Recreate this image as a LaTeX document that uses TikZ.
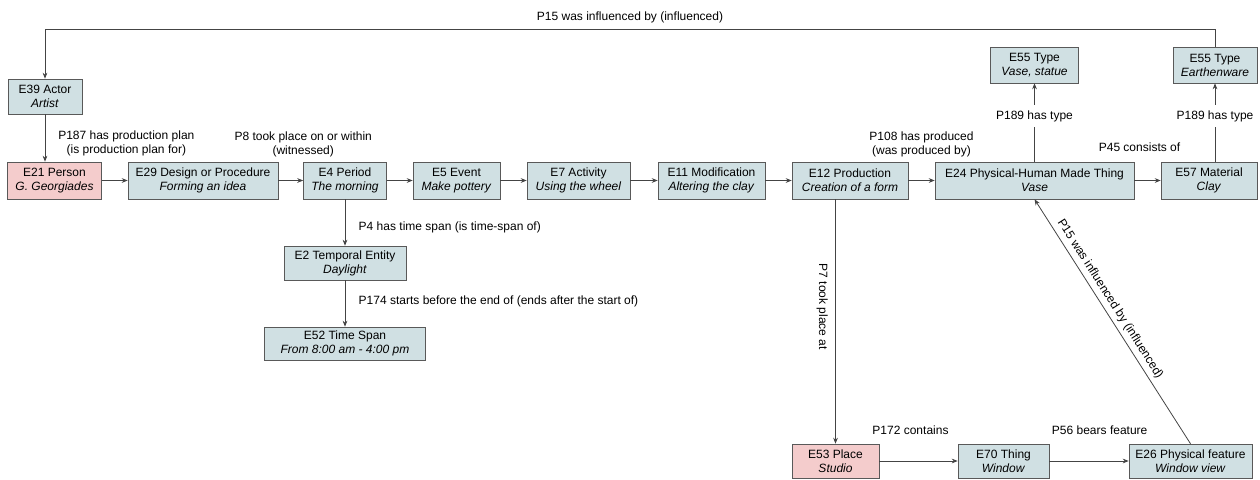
\documentclass[tikz,border=0pt]{standalone}
\usepackage{fontspec}
\setmainfont{Liberation Sans}
\usepackage{xcolor}
\usetikzlibrary{arrows.meta}
\definecolor{entfill}{RGB}{208,224,227}
\definecolor{actfill}{RGB}{244,204,204}
\definecolor{boxline}{RGB}{89,89,89}
\definecolor{linkline}{RGB}{68,68,68}

\begin{document}
\begin{tikzpicture}[
  x=0.75pt, y=-0.75pt,
  ent/.style={draw=boxline, fill=entfill, align=center, inner sep=1pt,
    minimum height=27.75pt, font=\fontsize{9}{10.5}\selectfont},
  agent/.style={ent, fill=actfill},
  w/.style={minimum width=#1*0.75pt},
  h/.style={minimum height=#1*0.75pt},
  lbl/.style={align=center, inner sep=1pt, font=\fontsize{9}{10.5}\selectfont},
  link/.style={draw=linkline, line width=0.6pt},
  ->,>={Stealth[length=4.5pt,width=3.5pt]}
]
\useasboundingbox (0,0) rectangle (1260,479);
\node[ent, w=74, h=35] (actor) at (45,96.5) {E39 Actor\\\textit{Artist}};
\node[agent, w=94] (person) at (54.5,180.5) {E21 Person\\\textit{G. Georgiades}};
\node[ent, w=150] (design) at (203,180.5) {E29 Design or Procedure\\\textit{Forming an idea}};
\node[ent, w=83] (period) at (345,180.5) {E4 Period\\\textit{The morning}};
\node[ent, w=87] (event) at (456.5,180.5) {E5 Event\\\textit{Make pottery}};
\node[ent, w=103] (activity) at (578.5,180.5) {E7 Activity\\\textit{Using the wheel}};
\node[ent, w=107] (modif) at (711.5,180.5) {E11 Modification\\\textit{Altering the clay}};
\node[ent, w=116] (prod) at (850,180.5) {E12 Production\\\textit{Creation of a form}};
\node[ent, w=199] (vase) at (1034.5,180.5) {E24 Physical-Human Made Thing\\\textit{Vase}};
\node[ent, w=96] (clay) at (1209,180.5) {E57 Material\\\textit{Clay}};
\node[ent, w=88, h=36] (vasetype) at (1034.5,65) {E55 Type\\\textit{Vase, statue}};
\node[ent, w=84, h=36] (claytype) at (1215,65) {E55 Type\\\textit{Earthenware}};
\node[ent, w=122, h=34] (daylight) at (345,263) {E2 Temporal Entity\\\textit{Daylight}};
\node[ent, w=161, h=33] (timespan) at (345,343.5) {E52 Time Span\\\textit{From 8:00 am - 4:00 pm}};
\node[agent, w=87, h=34] (studio) at (835.5,461) {E53 Place\\\textit{Studio}};
\node[ent, w=91, h=34] (window) at (1003.5,461) {E70 Thing\\\textit{Window}};
\node[ent, w=123, h=34] (view) at (1190.5,461) {E26 Physical feature\\\textit{Window view}};
\coordinate (top) at (0,29);

\draw[link] (claytype.north) -- (claytype.north |- top)
  -- node[lbl, above=3pt] {P15 was influenced by (influenced)} (actor.north |- top)
  -- (actor.north);
\draw[link] (actor.south) -- node[lbl, pos=0.56, xshift=61pt, yshift=-2pt]
  {P187 has production plan\\(is production plan for)} (actor.south |- person.north);
\draw[link] (person) -- (design);
\draw[link] (design) -- node[lbl, pos=1, yshift=27pt]
  {P8 took place on or within\\(witnessed)} (period);
\draw[link] (period) -- (event);
\draw[link] (event) -- (activity);
\draw[link] (activity) -- (modif);
\draw[link] (modif) -- (prod);
\draw[link] (prod) -- node[lbl, yshift=27pt] {P108 has produced\\(was produced by)} (vase);
\draw[link] (vase) -- node[lbl, xshift=-6pt, yshift=25pt] {P45 consists of} (clay);
\draw[link] (vase) -- node[lbl, fill=white, inner sep=4pt, pos=0.58] {P189 has type} (vasetype);
\draw[link] (clay.north -| claytype) -- node[lbl, fill=white, inner sep=4pt, pos=0.58] {P189 has type} (claytype);
\draw[link] (period) -- node[lbl, anchor=west, pos=0.6, xshift=9pt]
  {P4 has time span (is time-span of)} (daylight);
\draw[link] (daylight) -- node[lbl, anchor=west, pos=0.45, xshift=9pt]
  {P174 starts before the end of (ends after the start of)} (timespan);
\draw[link] (studio.north |- prod.south) -- node[lbl, pos=0.44, xshift=-10pt, rotate=-90]
  {P7 took place at} (studio);
\draw[link] (view.north) -- node[lbl, sloped, pos=0.57, above=2pt]
  {P15 was influenced by (influenced)} (vase.south);
\draw[link] (studio) -- node[lbl, xshift=-6pt, yshift=23pt] {P172 contains} (window);
\draw[link] (window) -- node[lbl, xshift=8pt, yshift=23pt] {P56 bears feature} (view);
\end{tikzpicture}
\end{document}
